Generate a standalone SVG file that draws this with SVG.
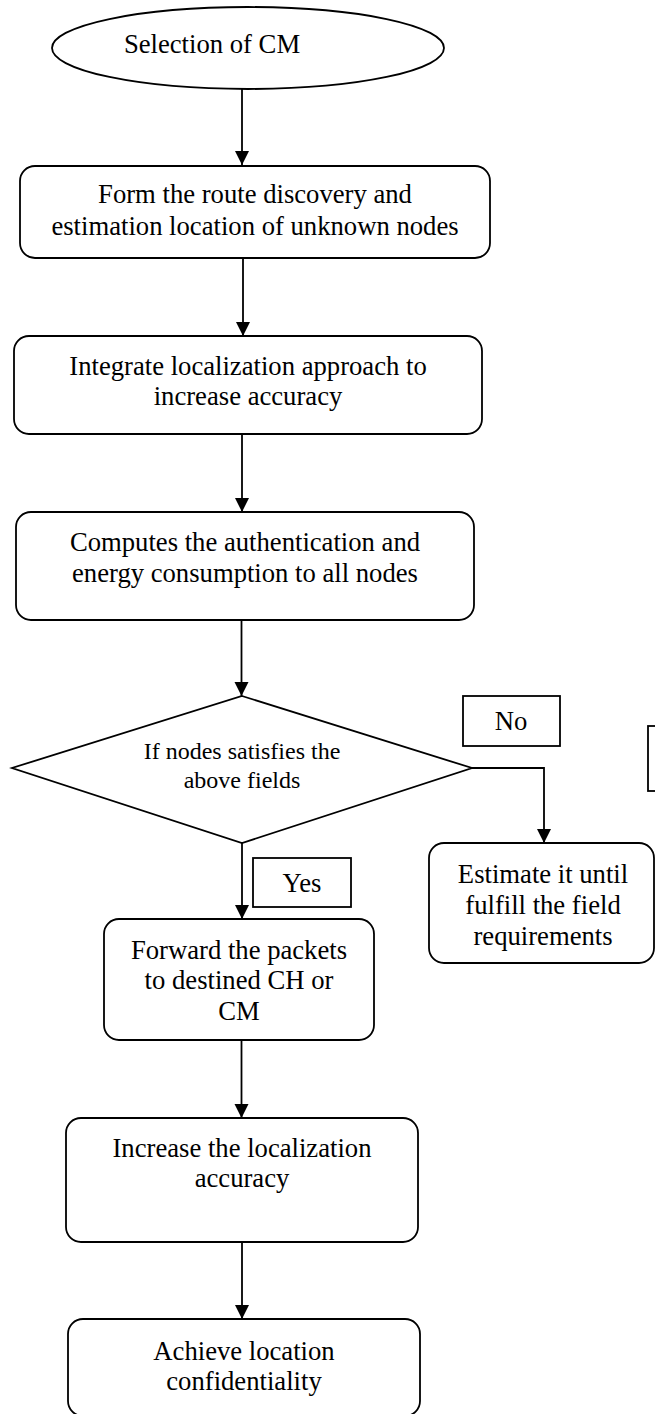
<svg xmlns="http://www.w3.org/2000/svg" width="655" height="1414" viewBox="0 0 655 1414">
<style>
.shape{fill:#fff;stroke:#000;stroke-width:1.8}
.lbl{fill:none;stroke:#000;stroke-width:1.8}
.t{font-family:"Liberation Serif","Times New Roman",serif;font-size:26.67px;fill:#000;text-anchor:middle}
.ts{font-family:"Liberation Serif","Times New Roman",serif;font-size:24px;fill:#000;text-anchor:middle}
.c{fill:none;stroke:#000;stroke-width:1.8}
</style>
<defs>
<marker id="ah" markerUnits="userSpaceOnUse" markerWidth="14" markerHeight="15" refX="14" refY="7" orient="auto">
<path d="M0,0 L14,7 L0,14 z" fill="#000"/>
</marker>
</defs>
<rect width="655" height="1414" fill="#fff"/>
<g id="connectors">
<path class="c" d="M242,89 L242,165" marker-end="url(#ah)"/>
<path class="c" d="M243,258 L243,336" marker-end="url(#ah)"/>
<path class="c" d="M242,434 L242,512" marker-end="url(#ah)"/>
<path class="c" d="M241.5,620 L241.5,696" marker-end="url(#ah)"/>
<path class="c" d="M472,768 L544,768 L544,843" marker-end="url(#ah)"/>
<path class="c" d="M242,843 L242,919" marker-end="url(#ah)"/>
<path class="c" d="M241.5,1040 L241.5,1118" marker-end="url(#ah)"/>
<path class="c" d="M242,1242 L242,1319" marker-end="url(#ah)"/>
</g>
<g id="start">
<ellipse class="shape" cx="248" cy="48" rx="196" ry="41"/>
<text class="t" x="212" y="53">Selection of CM</text>
</g>
<g id="route">
<rect class="shape" x="20" y="166" width="470" height="92" rx="15"/>
<text class="t" x="255" y="203">Form the route discovery and</text>
<text class="t" x="255" y="235">estimation location of unknown nodes</text>
</g>
<g id="integrate">
<rect class="shape" x="14" y="336" width="468" height="98" rx="15"/>
<text class="t" x="248" y="375">Integrate localization approach to</text>
<text class="t" x="248" y="405">increase accuracy</text>
</g>
<g id="computes">
<rect class="shape" x="16" y="512" width="458" height="108" rx="15"/>
<text class="t" x="245" y="551">Computes the authentication and</text>
<text class="t" x="245" y="582">energy consumption to all nodes</text>
</g>
<g id="decision">
<polygon class="shape" points="242,696 472,768 242,843 12,768"/>
<text class="ts" x="242" y="759">If nodes satisfies the</text>
<text class="ts" x="242" y="788">above fields</text>
</g>
<g id="no-label">
<rect class="lbl" x="463" y="696" width="97" height="50"/>
<text class="t" x="511" y="730">No</text>
</g>
<g id="partial-box">
<rect class="lbl" x="648" y="726" width="30" height="65"/>
</g>
<g id="estimate">
<rect class="shape" x="429" y="843" width="225" height="120" rx="15"/>
<text class="t" x="543" y="883">Estimate it until</text>
<text class="t" x="543" y="914">fulfill the field</text>
<text class="t" x="543" y="945">requirements</text>
</g>
<g id="yes-label">
<rect class="lbl" x="253" y="858" width="98" height="49"/>
<text class="t" x="302" y="892">Yes</text>
</g>
<g id="forward">
<rect class="shape" x="104" y="919" width="270" height="121" rx="15"/>
<text class="t" x="239" y="959">Forward the packets</text>
<text class="t" x="239" y="989">to destined CH or</text>
<text class="t" x="239" y="1020">CM</text>
</g>
<g id="increase">
<rect class="shape" x="66" y="1118" width="352" height="124" rx="15"/>
<text class="t" x="242" y="1157">Increase the localization</text>
<text class="t" x="242" y="1187">accuracy</text>
</g>
<g id="achieve">
<rect class="shape" x="68" y="1319" width="352" height="97" rx="15"/>
<text class="t" x="244" y="1360">Achieve location</text>
<text class="t" x="244" y="1390">confidentiality</text>
</g>
</svg>
